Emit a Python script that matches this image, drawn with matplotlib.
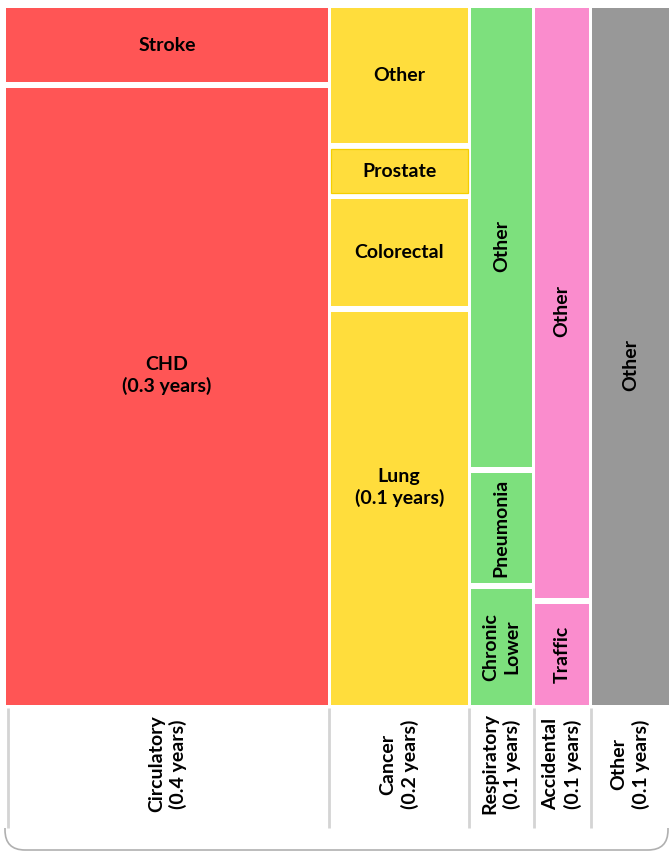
import matplotlib
matplotlib.use("Agg")
import matplotlib.pyplot as plt
from matplotlib.patches import Rectangle, PathPatch
from matplotlib.path import Path

# Years of life lost by cause group, and the causes within each group
groups = ["Circulatory", "Cancer", "Respiratory", "Accidental", "Other"]
group_colors = ["#FF5555", "#FFDD3C", "#7DE07D", "#FA8CCD", "#989898"]

circulatory_causes = ["Stroke", "CHD"]
circulatory_years = [0.042, 0.338]

cancer_causes = ["Other", "Prostate", "Colorectal", "Lung"]
cancer_years = [0.0325, 0.0118, 0.0266, 0.0932]

respiratory_causes = ["Other", "Pneumonia", "Chronic\nLower"]
respiratory_years = [0.0504, 0.0126, 0.0130]

accidental_causes = ["Other", "Traffic"]
accidental_years = [0.057, 0.010]

other_causes = ["Other"]
other_years = [0.092]

# Causes whose label also carries the number of years
labelled_with_years = {"CHD", "Lung"}

causes = [circulatory_causes, cancer_causes, respiratory_causes,
          accidental_causes, other_causes]
years = [circulatory_years, cancer_years, respiratory_years,
         accidental_years, other_years]

W, H, DPI = 669, 851, 100
fig = plt.figure(figsize=(W / DPI, H / DPI), dpi=DPI)

FONT = ["Lato", "DejaVu Sans"]
FS = 14
LS = 1.3

# Mosaic area in pixels
left_px, right_px, top_px, bottom_px = 6, 669, 8, 705
ax = fig.add_axes([left_px / W, 1 - bottom_px / H,
                   (right_px - left_px) / W, (bottom_px - top_px) / H])
totals = [sum(v) for v in years]
grand = sum(totals)
ax.set_xlim(0, grand)
ax.set_ylim(1, 0)
ax.axis("off")

px_x = grand / (right_px - left_px)          # data units per pixel (x)
px_y = 1.0 / (bottom_px - top_px)            # data units per pixel (y)
half_col_gap = 1.5 * px_x
half_row_gap = 3.0 * px_y

x0 = 0.0
col_bounds = []
n = len(groups)
for g, (name, color, cs, vs) in enumerate(zip(groups, group_colors, causes, years)):
    tot = sum(vs)
    col_bounds.append((x0, x0 + tot))
    xl = x0 + (half_col_gap if g > 0 else 0)
    xr = x0 + tot - (half_col_gap if g < n - 1 else 0)
    width_px = (xr - xl) / px_x
    y0 = 0.0
    m = len(vs)
    for i, (c, v) in enumerate(zip(cs, vs)):
        frac = v / tot
        yt = y0 + (half_row_gap if i > 0 else 0)
        yb = y0 + frac - (half_row_gap if i < m - 1 else 0)
        edge = "#F5CF00" if c == "Prostate" else "none"
        ax.add_patch(Rectangle((xl, yt), xr - xl, yb - yt, facecolor=color,
                               edgecolor=edge, linewidth=0.9))
        label = c
        if c in labelled_with_years:
            label = f"{c}\n({v:.1f} years)"
        rot = 90 if width_px < 100 else 0
        yc = (yt + yb) / 2
        if "\n" in label and rot == 0:
            yc -= 21 * px_y
        if rot == 90 and (yb - yt) / px_y > 300:
            yc += 8 * px_y
        ax.text((xl + xr) / 2, yc, label, ha="center", va="center",
                rotation=rot, multialignment="center", fontsize=FS,
                fontweight="bold", family=FONT, linespacing=LS)
        y0 += frac
    x0 += tot

# Group labels and separators under the mosaic, in pixel coordinates
ov = fig.add_axes([0, 0, 1, 1])
ov.set_xlim(0, W)
ov.set_ylim(H, 0)
ov.axis("off")

for g, (name, (a, b)) in enumerate(zip(groups, col_bounds)):
    xa = left_px + a / px_x
    xb = min(left_px + b / px_x, W)
    sep_x = xa + 2 if g == 0 else xa
    ov.plot([sep_x, sep_x], [708, 828], color="#d4d4d4", lw=2,
            solid_capstyle="butt")
    xc = (xa + xb) / 2
    ov.text(xc, 764, f"{name}\n({totals[g]:.1f} years)", ha="center",
            va="center", rotation=90, multialignment="center", fontsize=FS,
            fontweight="bold", family=FONT, linespacing=LS)

# Rounded lower frame
r = 20
verts = [(5, 828), (5, 850 - r), (5, 850), (5 + r, 850),
         (668 - r, 850), (668, 850), (668, 850 - r), (668, 828)]
codes = [Path.MOVETO, Path.LINETO, Path.CURVE3, Path.CURVE3,
         Path.LINETO, Path.CURVE3, Path.CURVE3, Path.LINETO]
ov.add_patch(PathPatch(Path(verts, codes), facecolor="none",
                       edgecolor="#b0b0b0", lw=1.2))

fig.savefig("out.png", dpi=DPI)
